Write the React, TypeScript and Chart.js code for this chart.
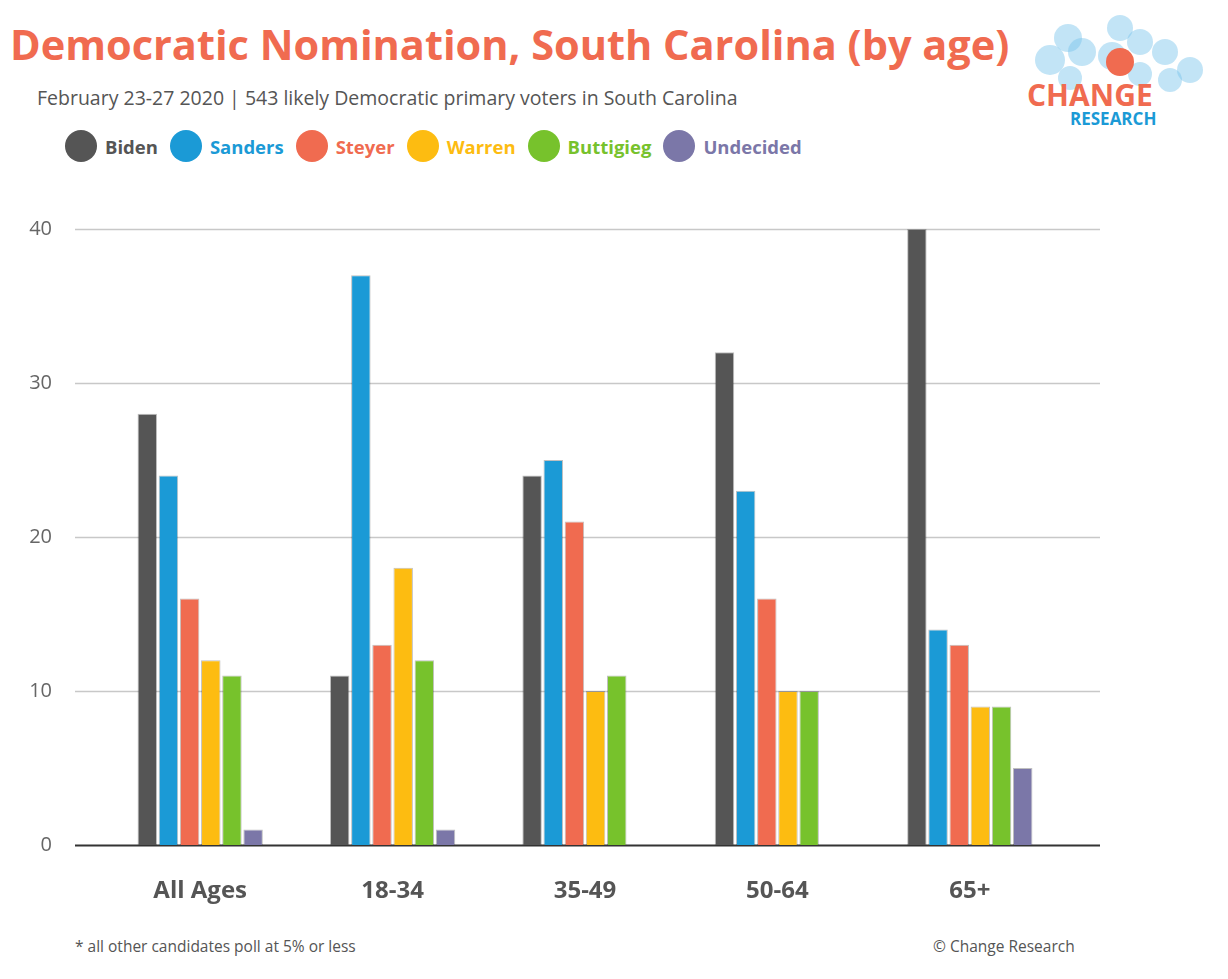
import { useEffect, useRef } from 'react';
import { Chart, registerables } from 'chart.js';

Chart.register(...registerables);

const categories = ['All Ages', '18-34', '35-49', '50-64', '65+'];
const candidates = ['Biden', 'Sanders', 'Steyer', 'Warren', 'Buttigieg', 'Undecided'];
const colors = ['#555555', '#1b9ad6', '#f06b50', '#fdbc11', '#77c22c', '#7b77a8'];
const biden = [28, 11, 24, 32, 40];
const sanders = [24, 37, 25, 23, 14];
const steyer = [16, 13, 21, 16, 13];
const warren = [12, 18, 10, 10, 9];
const buttigieg = [11, 12, 11, 10, 9];
const undecided = [1, 1, null, null, 5];
const yTicks = [0, 10, 20, 30, 40];

const series = [biden, sanders, steyer, warren, buttigieg, undecided];
const font = '"Open Sans", Lato, sans-serif';

const bubbles: [number, number, number][] = [
  [1068, 38, 14], [1120, 28, 13], [1050, 60, 15], [1082, 52, 14], [1112, 56, 14],
  [1140, 42, 13], [1165, 52, 13], [1190, 70, 13], [1070, 78, 12], [1140, 74, 12], [1170, 80, 12],
];

// draws the horizontal grid lines wider than the plot area, as in the original
const wideGrid = {
  id: 'wideGrid',
  beforeDatasetsDraw(chart: any) {
    const { ctx, scales } = chart;
    const y = scales.y;
    ctx.save();
    yTicks.forEach(v => {
      const py = Math.round(y.getPixelForValue(v)) + 0.5;
      ctx.beginPath();
      ctx.strokeStyle = v === 0 ? '#333' : '#c8c8c8';
      ctx.lineWidth = v === 0 ? 2 : 1.5;
      ctx.moveTo(75, py);
      ctx.lineTo(1100, py);
      ctx.stroke();
    });
    ctx.restore();
  },
};

export default function App() {
  const canvasRef = useRef<HTMLCanvasElement>(null);

  useEffect(() => {
    if (!canvasRef.current) return;
    const chart = new Chart(canvasRef.current, {
      type: 'bar',
      data: {
        labels: categories,
        datasets: candidates.map((name, i) => ({
          label: name,
          data: series[i],
          backgroundColor: colors[i],
          borderColor: 'rgba(0,0,0,0.25)',
          borderWidth: 1,
          categoryPercentage: 0.66,
          barPercentage: 0.92,
        })),
      },
      options: {
        animation: false,
        responsive: false,
        layout: { padding: { top: 11, right: 54 } },
        plugins: { legend: { display: false }, tooltip: { enabled: false } },
        scales: {
          x: {
            grid: { display: false },
            border: { display: false },
            ticks: { color: '#555', font: { family: font, size: 24, weight: 'bold' }, padding: 24 },
            afterFit: (s: any) => { s.height = 88; },
          },
          y: {
            min: 0,
            max: 40,
            afterBuildTicks: (s: any) => { s.ticks = yTicks.map(v => ({ value: v })); },
            border: { display: false },
            grid: { display: false },
            ticks: { color: '#666', font: { family: font, size: 20 }, padding: 44 },
            afterFit: (s: any) => { s.width = 104; },
          },
        },
      },
      plugins: [wideGrid],
    });
    return () => { chart.destroy(); };
  }, []);

  return (
    <div style={{ position: 'relative', width: 1228, height: 979, background: '#fff', margin: -8, fontFamily: font, overflow: 'hidden' }}>
      <div style={{ position: 'absolute', left: 10, top: 16, fontSize: 41.5, fontWeight: 'bold', color: '#f06b50', whiteSpace: 'nowrap' }}>
        Democratic Nomination, South Carolina (by age)
      </div>
      <div style={{ position: 'absolute', left: 37, top: 84, fontSize: 19.5, color: '#555', whiteSpace: 'nowrap' }}>
        February 23-27 2020 | 543 likely Democratic primary voters in South Carolina
      </div>
      <div style={{ position: 'absolute', left: 65, top: 130, display: 'flex', alignItems: 'center' }}>
        {candidates.map((c, i) => (
          <div key={c} style={{ display: 'flex', alignItems: 'center', marginRight: 12 }}>
            <div style={{ width: 32, height: 32, borderRadius: 16, background: colors[i], marginRight: 8 }} />
            <span style={{ fontSize: 18.5, fontWeight: 'bold', color: colors[i] }}>{c}</span>
          </div>
        ))}
      </div>
      {bubbles.map(([x, y, r], i) => (
        <div key={i} style={{ position: 'absolute', left: x - r, top: y - r, width: 2 * r, height: 2 * r, borderRadius: r, background: 'rgba(120,195,235,0.45)' }} />
      ))}
      <div style={{ position: 'absolute', left: 1106, top: 48, width: 28, height: 28, borderRadius: 14, background: '#f06b50' }} />
      <div style={{ position: 'absolute', left: 1027, top: 74, fontSize: 30, fontWeight: 'bold', color: '#f06b50' }}>CHANGE</div>
      <div style={{ position: 'absolute', left: 1070, top: 107, fontSize: 17, fontWeight: 'bold', color: '#1b9ad6' }}>RESEARCH</div>
      <canvas ref={canvasRef} width={1120} height={760} style={{ position: 'absolute', left: 0, top: 173 }} />
      <div style={{ position: 'absolute', left: 75, top: 935, fontSize: 15.5, color: '#555' }}>* all other candidates poll at 5% or less</div>
      <div style={{ position: 'absolute', left: 933, top: 935, fontSize: 15.5, color: '#555' }}>© Change Research</div>
    </div>
  );
}
